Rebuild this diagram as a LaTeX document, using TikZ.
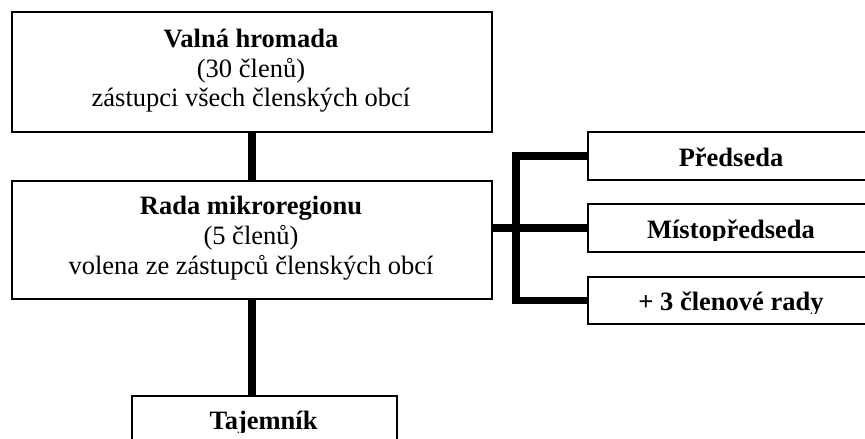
\documentclass[tikz,border=0pt]{standalone}
\usepackage{fontspec}
\setmainfont{Liberation Serif}
\begin{document}
\begin{tikzpicture}[x=1pt,y=-1pt,
  box/.style={draw=black,line width=1.6pt,fill=white,rectangle,inner sep=0pt,anchor=north west},
  txt/.style={inner sep=0pt,anchor=base,font=\fontsize{26.5}{30}\selectfont},
  btxt/.style={txt,font=\fontsize{26.5}{30}\selectfont\bfseries},
  conn/.style={line width=7.5pt,line join=miter,black}]
\useasboundingbox (0,0) rectangle (865,439);
% boxes
\node[box,minimum width=480pt,minimum height=120pt] (valna) at (11,11) {};
\node[box,minimum width=480pt,minimum height=118pt] (rada) at (11,180) {};
\node[box,minimum width=300pt,minimum height=48pt] (pred) at (587,131) {};
\node[box,minimum width=300pt,minimum height=48pt] (misto) at (587,203) {};
\node[box,minimum width=300pt,minimum height=47pt] (tri) at (587,276) {};
\node[box,minimum width=265pt,minimum height=60pt] (taj) at (131,395) {};
% connectors
\draw[conn] (valna.south) -- (valna.south |- rada.north);
\draw[conn] (rada.south) -- (rada.south |- taj.north);
\draw[conn] (misto.west -| rada.east) -- (misto.west);
\draw[conn] (pred.west) -- ++(-71,0) coordinate (bt) |- (tri.west);
% texts
\node[btxt] (t1) at (251,47) {Valná hromada};
\node[txt] (t2) at (251,77) {(30 členů)};
\node[txt] (t3) at (251,106) {zástupci všech členských obcí};
\node[btxt] (r1) at (251,214) {Rada mikroregionu};
\node[txt] (r2) at (251,244) {(5 členů)};
\node[txt] (r3) at (251,274) {volena ze zástupců členských obcí};
\node[btxt] (p1) at (731,166) {Předseda};
\begin{scope}
\clip (588,204) rectangle (865,240.5);
\node[btxt] (m1) at (731,238) {Místopředseda};
\end{scope}
\begin{scope}
\clip (588,277) rectangle (865,313.5);
\node[btxt] (c1) at (731,310) {+ 3 členové rady};
\end{scope}
\begin{scope}
\clip (132,396) rectangle (395,432);
\node[btxt] (j1) at (263.5,429) {Tajemník};
\end{scope}
\end{tikzpicture}
\end{document}
